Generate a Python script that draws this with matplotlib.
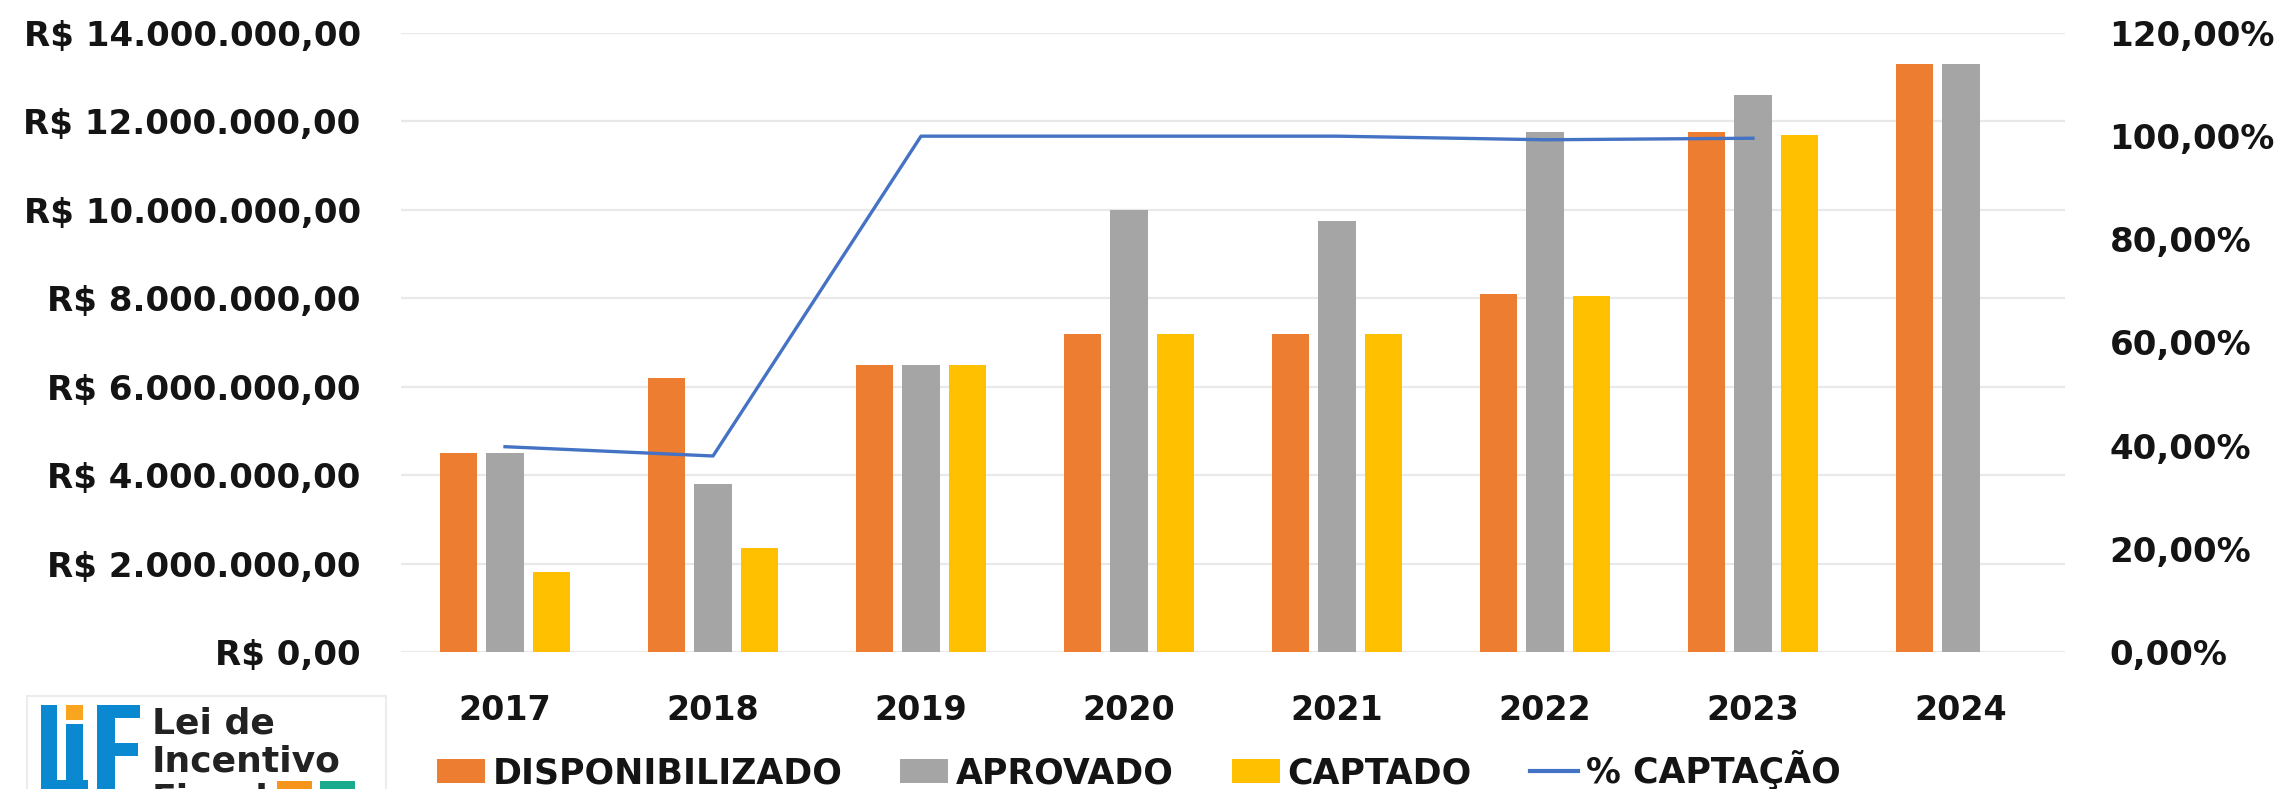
import matplotlib
matplotlib.use("Agg")
import matplotlib.pyplot as plt
import numpy as np
from matplotlib.patches import Rectangle, Patch
from matplotlib.lines import Line2D
from matplotlib.ticker import FuncFormatter

# values
anos = ["2017", "2018", "2019", "2020", "2021", "2022", "2023", "2024"]
disponibilizado = [4500000, 6200000, 6500000, 7200000, 7200000, 8100000, 11750000, 13300000]
aprovado = [4500000, 3800000, 6500000, 10000000, 9750000, 11750000, 12600000, 13300000]
captado = [1800000, 2350000, 6500000, 7200000, 7200000, 8050000, 11700000, np.nan]
pct_captacao = [39.8, 38.0, 100.0, 100.0, 100.0, 99.3, 99.6]

C_DISP = "#ed7d31"
C_APROV = "#a5a5a5"
C_CAPT = "#ffc000"
C_LINE = "#4472c4"
TXT = "#141414"

plt.rcParams["font.family"] = ["DejaVu Sans"]
plt.rcParams["font.weight"] = "bold"

W, H = 2280, 789
fig = plt.figure(figsize=(W / 100, H / 100), dpi=100)

# plot area in pixels
left, right, top, bottom = 401, 2065, 33, 652
ax = fig.add_axes([left / W, 1 - bottom / H, (right - left) / W, (bottom - top) / H])

x = np.arange(len(anos))
bw = 0.18
step = 0.2236
ax.bar(x - step, disponibilizado, bw, color=C_DISP, zorder=2)
ax.bar(x, aprovado, bw, color=C_APROV, zorder=2)
ax.bar(x + step, captado, bw, color=C_CAPT, zorder=2)

ax.set_xlim(-0.5, len(anos) - 0.5)
ax.set_ylim(0, 14000000)
ax.set_yticks(np.arange(0, 14000001, 2000000))


def brl(v, pos):
    s = f"{v:,.2f}"
    s = s.replace(",", "X").replace(".", ",").replace("X", ".")
    return "R$ " + s


ax.yaxis.set_major_formatter(FuncFormatter(brl))
ax.set_xticks(x)
ax.set_xticklabels(anos)
ax.grid(axis="y", color="#e9e9e9", linewidth=1.6, zorder=0)
ax.set_axisbelow(True)
for s in ax.spines.values():
    s.set_visible(False)
ax.tick_params(axis="y", length=0, pad=29, labelsize=24.5, labelcolor=TXT)
ax.tick_params(axis="x", length=0, pad=30, labelsize=24, labelcolor=TXT)

# secondary axis for % captação
ax2 = ax.twinx()
ax2.plot(x[:len(pct_captacao)], np.array(pct_captacao) / 100, color=C_LINE, lw=2.4, zorder=3)
ax2.set_ylim(0, 1.2)
ax2.set_yticks(np.arange(0, 1.21, 0.2))
ax2.yaxis.set_major_formatter(FuncFormatter(lambda v, p: f"{v * 100:.2f}%".replace(".", ",")))
for s in ax2.spines.values():
    s.set_visible(False)
ax2.tick_params(axis="y", length=0, pad=32, labelsize=24.5, labelcolor=TXT)

# legend
handles = [
    Patch(facecolor=C_DISP, label="DISPONIBILIZADO"),
    Patch(facecolor=C_APROV, label="APROVADO"),
    Patch(facecolor=C_CAPT, label="CAPTADO"),
    Line2D([0], [0], color=C_LINE, lw=3, label="% CAPTAÇÃO"),
]
leg = fig.legend(handles=handles, loc="center left", bbox_to_anchor=(437 / W, 1 - 770 / H),
                 ncol=4, frameon=False, borderpad=0, borderaxespad=0,
                 handlelength=1.38, handleheight=0.66, handletextpad=0.23,
                 columnspacing=1.66, prop={"size": 25, "weight": "bold"})
for t in leg.get_texts():
    t.set_color(TXT)

# logo "LiF - Lei de Incentivo Fiscal" in the bottom-left corner
lg = fig.add_axes([0, 0, 1, 1], zorder=5)
lg.set_xlim(0, W)
lg.set_ylim(H, 0)
lg.axis("off")
lg.patch.set_alpha(0)
blue = "#0a88d0"
lg.add_patch(Rectangle((27, 696), 359, 120, facecolor="white", edgecolor="#ececec", lw=1.5))
# L
lg.add_patch(Rectangle((41, 705), 16, 100, facecolor=blue, edgecolor="none"))
lg.add_patch(Rectangle((41, 780), 47, 20, facecolor=blue, edgecolor="none"))
# i
lg.add_patch(Rectangle((66, 705), 17, 15, facecolor="#f9a51f", edgecolor="none"))
lg.add_patch(Rectangle((66, 724), 17, 80, facecolor=blue, edgecolor="none"))
# F
lg.add_patch(Rectangle((97, 705), 18, 100, facecolor=blue, edgecolor="none"))
lg.add_patch(Rectangle((97, 705), 43, 13, facecolor=blue, edgecolor="none"))
lg.add_patch(Rectangle((97, 743), 41, 13, facecolor=blue, edgecolor="none"))
lg.text(152, 733, "Lei de", fontsize=26, fontweight="bold", color="#222222", va="baseline")
lg.text(152, 772, "Incentivo", fontsize=26, fontweight="bold", color="#222222", va="baseline")
lg.text(152, 810, "Fiscal", fontsize=26, fontweight="bold", color="#222222", va="baseline")
lg.add_patch(Rectangle((277, 781), 35, 20, facecolor="#f7941d", edgecolor="none"))
lg.add_patch(Rectangle((320, 781), 35, 20, facecolor="#1aaa8c", edgecolor="none"))

fig.savefig("out.png", dpi=100)
